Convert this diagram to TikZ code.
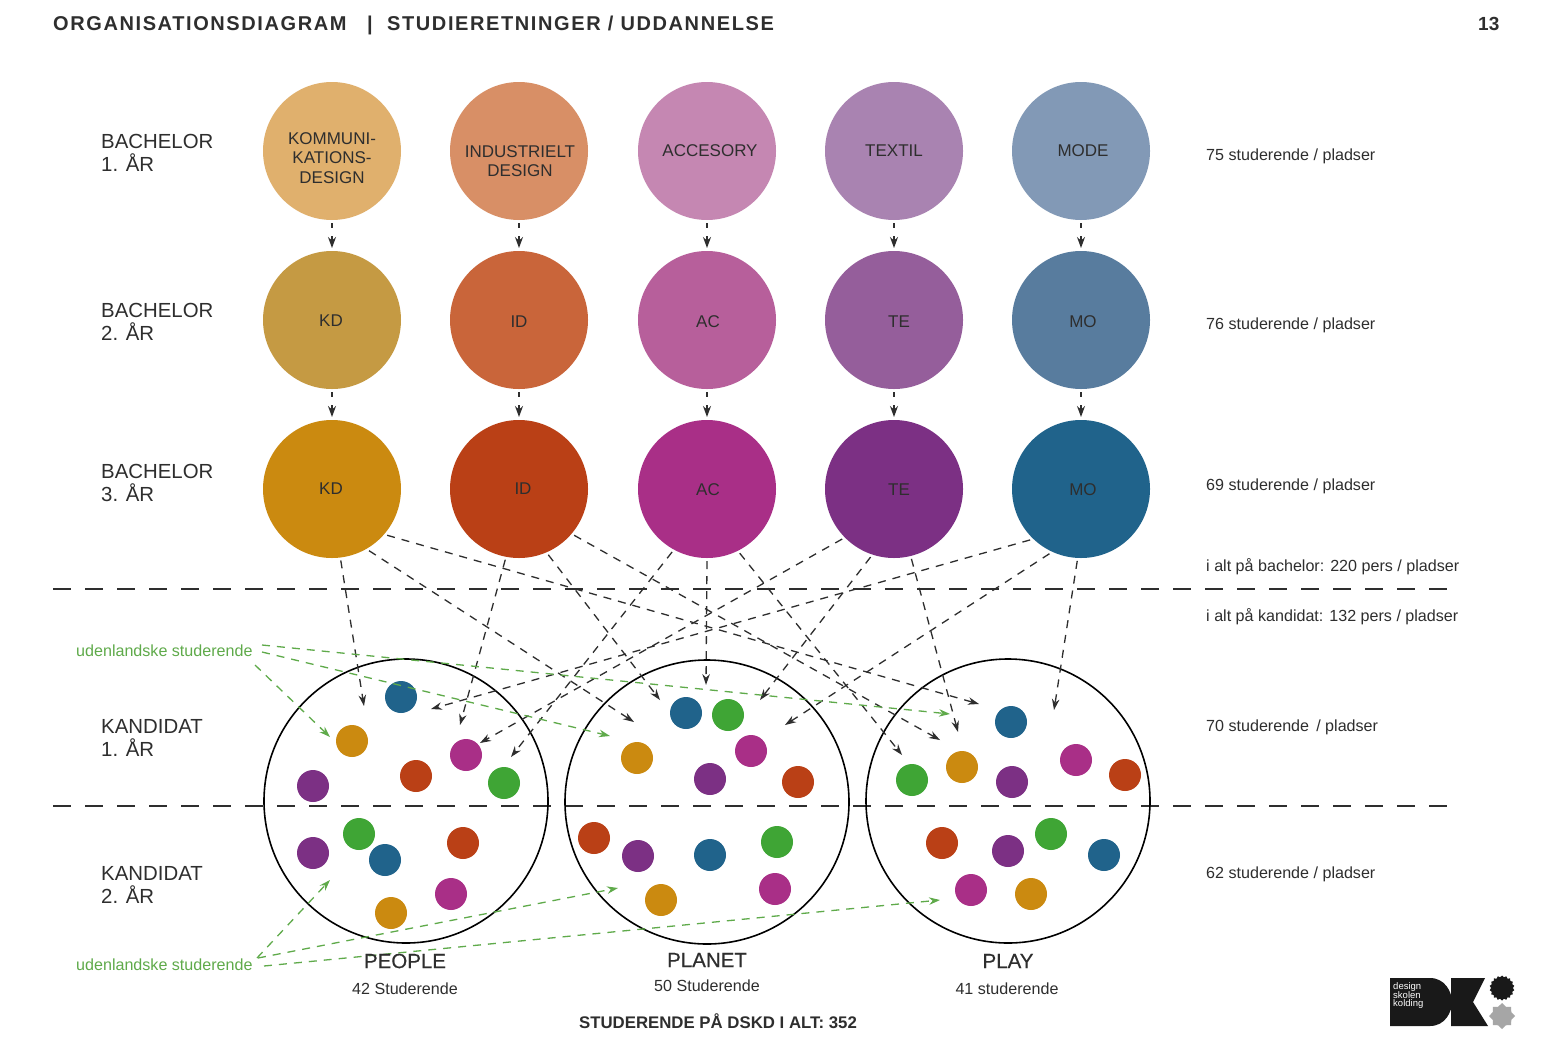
\documentclass[tikz,border=0pt]{standalone}
\usepackage{fontspec}
\setmainfont{Liberation Sans}
\usetikzlibrary{arrows.meta,shapes.geometric}
\definecolor{cO}{HTML}{CB8A10}
\definecolor{cR}{HTML}{BA4016}
\definecolor{cM}{HTML}{A92F87}
\definecolor{cP}{HTML}{7C3084}
\definecolor{cB}{HTML}{20638B}
\definecolor{cG}{HTML}{3FA535}
\definecolor{txt}{HTML}{2E2E2E}
\definecolor{grn}{HTML}{5FAA4A}
\newcommand{\fs}[2]{\fontsize{#1}{#2}\selectfont}
\tikzset{
  x=1pt,y=-1pt,
  circ/.style={circle,minimum size=138pt,inner sep=0,outer sep=3pt},
  ctext/.style={inner sep=0,text=txt,align=center,font=\fs{17}{19.5}},
  bigc/.style={circle,draw=black,line width=1.6pt,minimum size=284pt,inner sep=0},
  spot/.style={circle,minimum size=32pt,inner sep=0},
  lab/.style={anchor=west,inner sep=0,align=left,text=txt},
  heading/.style={anchor=base west,inner sep=0,text=txt,font=\bfseries\fs{20}{24}\addfontfeature{LetterSpace=8}},
  rowl/.style={lab,font=\fs{20.4}{23.5}},
  info/.style={lab,font=\fs{16.1}{19}},
  mid/.style={anchor=center,inner sep=0,text=txt},
  capt/.style={mid,font=\fs{20.5}{24}\addfontfeature{FakeBold=0.4}},
  link/.style={draw=txt,line width=1.3pt,dash pattern=on 8pt off 7pt,-{Stealth[length=11pt,width=7.5pt]}},
  stub/.style={draw=txt,line width=1.3pt,dash pattern=on 5pt off 8pt,-{Stealth[length=11pt,width=8pt]}},
  glink/.style={draw=grn,line width=1.3pt,dash pattern=on 8pt off 7pt,-{Stealth[length=11pt,width=7.5pt]}},
  divider/.style={draw=txt,line width=1.3pt,dash pattern=on 18pt off 14pt},
}
\begin{document}
\begin{tikzpicture}
\useasboundingbox (0,0) rectangle (1557,1039);
\fill[white] (0,0) rectangle (1557,1039);
% header
\node[heading] (title) at (53,30) {ORGANISATIONSDIAGRAM};
\node[heading] (bar) at (367,30) {|};
\node[heading] (title2) at (387,30) {STUDIERETNINGER / UDDANNELSE};
\node[lab,font=\bfseries\fs{19}{24}] (page) at (1478,24) {13};
% row labels
\node[rowl] (r1) at (101,153) {BACHELOR\\1. ÅR};
\node[rowl] (r2) at (101,322) {BACHELOR\\2. ÅR};
\node[rowl] (r3) at (101,483) {BACHELOR\\3. ÅR};
\node[rowl] (r4) at (101,738) {KANDIDAT\\1. ÅR};
\node[rowl] (r5) at (101,885) {KANDIDAT\\2. ÅR};
% circles
\node[circ,fill={rgb,255:red,224;green,176;blue,109}] (a1) at (332,151) {};
\node[circ,fill={rgb,255:red,216;green,143;blue,102}] (b1) at (519,151) {};
\node[circ,fill={rgb,255:red,197;green,135;blue,178}] (c1) at (707,151) {};
\node[circ,fill={rgb,255:red,169;green,131;blue,177}] (d1) at (894,151) {};
\node[circ,fill={rgb,255:red,130;green,153;blue,182}] (e1) at (1081,151) {};
\node[circ,fill={rgb,255:red,197;green,154;blue,67}] (a2) at (332,320) {};
\node[circ,fill={rgb,255:red,201;green,101;blue,58}] (b2) at (519,320) {};
\node[circ,fill={rgb,255:red,183;green,95;blue,155}] (c2) at (707,320) {};
\node[circ,fill={rgb,255:red,149;green,94;blue,155}] (d2) at (894,320) {};
\node[circ,fill={rgb,255:red,88;green,124;blue,158}] (e2) at (1081,320) {};
\node[circ,fill=cO] (a3) at (332,489) {};
\node[circ,fill=cR] (b3) at (519,489) {};
\node[circ,fill=cM] (c3) at (707,489) {};
\node[circ,fill=cP] (d3) at (894,489) {};
\node[circ,fill=cB] (e3) at (1081,489) {};
% circle texts
\node[ctext] (ta1) at (332,158) {KOMMUNI-\\KATIONS-\\DESIGN};
\node[ctext] (tb1) at (520,161) {INDUSTRIELT\\DESIGN};
\node[ctext] (tc1) at (710,151) {ACCESORY};
\node[ctext] (td1) at (894,151) {TEXTIL};
\node[ctext] (te1) at (1083,151) {MODE};
\node[ctext] (ta2) at (331,321) {KD};
\node[ctext] (tb2) at (519,322) {ID};
\node[ctext] (tc2) at (708,322) {AC};
\node[ctext] (td2) at (899,322) {TE};
\node[ctext] (te2) at (1083,322) {MO};
\node[ctext] (ta3) at (331,489) {KD};
\node[ctext] (tb3) at (523,489) {ID};
\node[ctext] (tc3) at (708,490) {AC};
\node[ctext] (td3) at (899,490) {TE};
\node[ctext] (te3) at (1083,490) {MO};
% info texts
\node[info] (i1) at (1206,156) {75 studerende / pladser};
\node[info] (i2) at (1206,325) {76 studerende / pladser};
\node[info] (i3) at (1206,486) {69 studerende / pladser};
\node[info] (i4) at (1206,567) {i alt på bachelor: 220 pers / pladser};
\node[info] (i5) at (1206,617) {i alt på kandidat: 132 pers / pladser};
\node[info] (i6) at (1206,727) {70 studerende\, / pladser};
\node[info] (i7) at (1206,874) {62 studerende / pladser};
% dividers
\coordinate (dl1) at (53,589); \coordinate (dr1) at (1450,589);
\coordinate (dl2) at (53,806); \coordinate (dr2) at (1450,806);
\draw[divider] (dl1) -- (dr1);
\draw[divider] (dl2) -- (dr2);
% spots
\foreach \n/\x/\y/\c in {
 s1/401/697/cB,s2/352/741/cO,s3/466/755/cM,s4/416/776/cR,s5/504/783/cG,s6/313/786/cP,
 s7/359/834/cG,s8/385/860/cB,s9/313/853/cP,s10/463/843/cR,s11/451/894/cM,s12/391/913/cO,
 s13/686/713/cB,s14/728/715/cG,s15/751/751/cM,s16/637/758/cO,s17/710/779/cP,s18/798/782/cR,
 s19/594/838/cR,s20/638/856/cP,s21/710/855/cB,s22/777/842/cG,s23/775/889/cM,s24/661/900/cO,
 s25/1011/722/cB,s26/1076/760/cM,s27/1125/775/cR,s28/962/767/cO,s29/912/780/cG,s30/1012/782/cP,
 s31/942/843/cR,s32/1008/851/cP,s33/1051/834/cG,s34/1104/855/cB,s35/971/890/cM,s36/1031/894/cO}
  \node[spot,fill=\c] (\n) at (\x,\y) {};
% big circles
\node[bigc] (people) at (406,801) {};
\node[bigc] (planet) at (707,802) {};
\node[bigc] (play) at (1008,801) {};
% vertical arrows between rows
\foreach \k in {a,b,c,d,e} {
  \draw[stub] (\k1) -- (\k2);
  \draw[stub] (\k2) -- (\k3);
}
% arrow targets
\coordinate (t1) at (364,706); \coordinate (t2) at (634,722); \coordinate (t3) at (979,704);
\coordinate (t4) at (460,725); \coordinate (t5) at (660,700); \coordinate (t6) at (940,740);
\coordinate (t7) at (511,757); \coordinate (t8) at (706,685); \coordinate (t9) at (902,755);
\coordinate (t10) at (480,743); \coordinate (t11) at (760,700); \coordinate (t12) at (958,732);
\coordinate (t13) at (431,709); \coordinate (t14) at (785,725); \coordinate (t15) at (1054,710);
\draw[link] (a3.-83) -- (t1);
\draw[link] (a3.-59) -- (t2);
\draw[link] (a3.-40) -- (t3);
\draw[link] (b3.-101) -- (t4);
\draw[link] (b3.-66) -- (t5);
\draw[link] (b3.-40) -- (t6);
\draw[link] (c3.-119) -- (t7);
\draw[link] (c3.-90) -- (t8);
\draw[link] (c3.-63) -- (t9);
\draw[link] (d3.-136) -- (t10);
\draw[link] (d3.-109) -- (t11);
\draw[link] (d3.-76) -- (t12);
\draw[link] (e3.-135) -- (t13);
\draw[link] (e3.-116) -- (t14);
\draw[link] (e3.-93) -- (t15);
% foreign students
\node[anchor=west,inner sep=0,text=grn,font=\fs{16.1}{19}] (u1) at (76,651) {udenlandske studerende};
\node[anchor=west,inner sep=0,text=grn,font=\fs{16.1}{19}] (u2) at (76,965) {udenlandske studerende};
\coordinate (g1) at (262,645); \coordinate (g2) at (262,652); \coordinate (g3) at (255,665);
\coordinate (g4) at (257,958); \coordinate (g5) at (258,958); \coordinate (g6) at (264,966);
\coordinate (h1) at (950,714); \coordinate (h2) at (610,736); \coordinate (h3) at (330,737);
\coordinate (h4) at (330,880); \coordinate (h5) at (618,888); \coordinate (h6) at (940,900);
\draw[glink] (g1) -- (h1);
\draw[glink] (g2) -- (h2);
\draw[glink] (g3) -- (h3);
\draw[glink] (g4) -- (h4);
\draw[glink] (g5) -- (h5);
\draw[glink] (g6) -- (h6);
% captions
\node[capt] (n1) at (405,961) {PEOPLE};
\node[capt] (n2) at (707,960) {PLANET};
\node[capt] (n3) at (1008,961) {PLAY};
\node[mid,font=\fs{16.1}{19}] (m1) at (405,989) {42 Studerende};
\node[mid,font=\fs{16.1}{19}] (m2) at (707,986) {50 Studerende};
\node[mid,font=\fs{16.1}{19}] (m3) at (1007,989) {41 studerende};
\node[mid,font=\bfseries\fs{16.8}{19}] (total) at (718,1021.5) {STUDERENDE PÅ DSKD I ALT: 352};
% logo
\fill[black!90] (1390,978) -- (1430,978) .. controls (1445,978) and (1452,992) .. (1452,1002) .. controls (1452,1012) and (1445,1026) .. (1430,1026) -- (1390,1026) -- cycle;
\fill[black!90] (1451,978) -- (1485,978) -- (1473,1002) -- (1488,1026) -- (1451,1026) -- cycle;
\node[star,star points=18,star point ratio=1.15,fill=black!90,minimum size=25pt,inner sep=0] (sun) at (1502,988) {};
\node[star,star points=8,star point ratio=1.3,fill=black!35,minimum size=26pt,inner sep=0] (sun2) at (1502,1016) {};
\node[anchor=north west,inner sep=0,text=white,align=left,font=\fs{9.5}{7.2}] (logo) at (1393,982) {design\\skolen\\kolding};
\end{tikzpicture}
\end{document}
